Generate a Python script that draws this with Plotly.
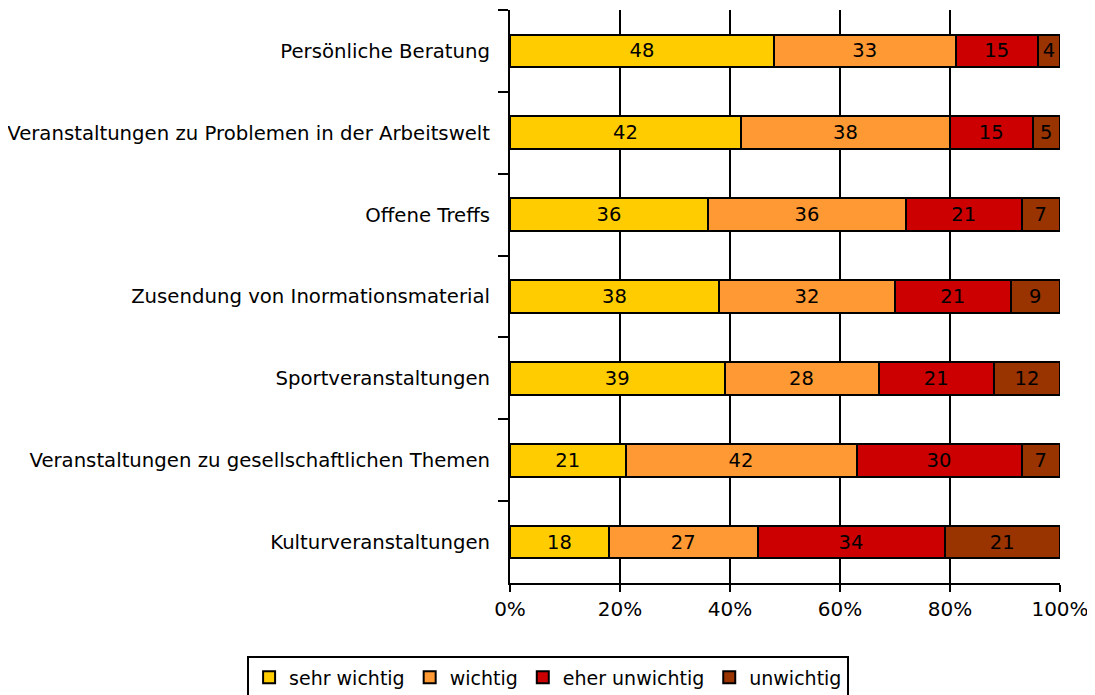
import plotly.graph_objects as go

categories = [
    "Persönliche Beratung",
    "Veranstaltungen zu Problemen in der Arbeitswelt",
    "Offene Treffs",
    "Zusendung von Inormationsmaterial",
    "Sportveranstaltungen",
    "Veranstaltungen zu gesellschaftlichen Themen",
    "Kulturveranstaltungen",
]
sehr_wichtig = [48, 42, 36, 38, 39, 21, 18]
wichtig = [33, 38, 36, 32, 28, 42, 27]
eher_unwichtig = [15, 15, 21, 21, 21, 30, 34]
unwichtig = [4, 5, 7, 9, 12, 7, 21]

series = [
    ("sehr wichtig", sehr_wichtig, "#FFCC00"),
    ("wichtig", wichtig, "#FF9933"),
    ("eher unwichtig", eher_unwichtig, "#CC0000"),
    ("unwichtig", unwichtig, "#993300"),
]

FONT = "DejaVu Sans"

fig = go.Figure()
for name, vals, color in series:
    fig.add_trace(go.Bar(
        y=categories, x=vals, name=name, orientation="h",
        marker=dict(color=color, line=dict(color="black", width=2)),
        text=[str(v) for v in vals], textposition="inside",
        insidetextanchor="middle", constraintext="none",
        textfont=dict(color="black", size=19.5, family=FONT),
        hoverinfo="x+y+name",
    ))

fig.update_layout(
    barmode="stack",
    bargap=0.6,
    width=1087, height=687,
    margin=dict(l=502, r=35, t=2, b=112, autoexpand=False),
    paper_bgcolor="white", plot_bgcolor="white",
    font=dict(family=FONT, size=19.7, color="black"),
    showlegend=True,
    legend=dict(
        orientation="h", x=-0.478, xanchor="left",
        y=-0.128, yanchor="top",
        bordercolor="black", borderwidth=2, font=dict(size=19),
        traceorder="normal", itemwidth=30,
    ),
)
fig.update_xaxes(
    range=[0, 100], tickvals=[0, 20, 40, 60, 80, 100],
    ticktext=["0%", "20%", "40%", "60%", "80%", "100%"],
    showgrid=True, gridcolor="black", gridwidth=2,
    showline=True, linecolor="black", linewidth=2,
    ticks="outside", ticklen=7, tickwidth=2, tickcolor="black",
    tickfont=dict(size=20), zeroline=False, automargin=False,
)
fig.update_yaxes(
    autorange="reversed", categoryorder="array", categoryarray=categories,
    showline=True, linecolor="black", linewidth=2,
    ticks="outside", tickson="boundaries", ticklen=10, tickwidth=2,
    tickcolor="black", showgrid=False, ticklabelstandoff=14, automargin=False,
)

fig.write_html("out.html")
